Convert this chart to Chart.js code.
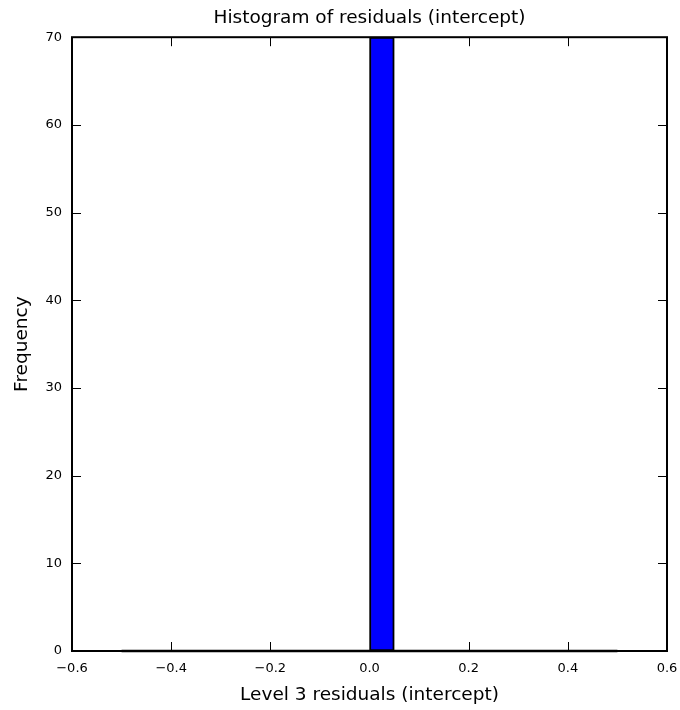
<!DOCTYPE html>
<html>
<head>
<meta charset="utf-8">
<script src="https://cdn.jsdelivr.net/npm/chart.js@4/dist/chart.umd.min.js"></script>
<style>
html,body{margin:0;padding:0;background:#fff;}
#wrap{width:680px;height:710px;}
</style>
</head>
<body>
<div id="wrap"><canvas id="c" width="680" height="710"></canvas></div>
<script>
// Histogram bin edges (20 bins of width 0.05)
const binEdges = [-0.5,-0.45,-0.4,-0.35,-0.3,-0.25,-0.2,-0.15,-0.1,-0.05,0.0,0.05,0.1,0.15,0.2,0.25,0.3,0.35,0.4,0.45,0.5];
// Counts per bin
const counts = [0,0,0,0,0,0,0,0,0,0,70,0,0,0,0,0,0,0,0,0];
// Axis tick values
const xTicks = [-0.6,-0.4,-0.2,0.0,0.2,0.4,0.6];
const yTicks = [0,10,20,30,40,50,60,70];

const titleText = 'Histogram of residuals (intercept)';
const xLabel = 'Level 3 residuals (intercept)';
const yLabel = 'Frequency';

const barData = counts.map((c,i)=>({x:(binEdges[i]+binEdges[i+1])/2, y:c}));
const baseLine = [{x:binEdges[0], y:0},{x:binEdges[binEdges.length-1], y:0}];

const FONT = 'DejaVu Sans';

const centerTitle = {
  id:'centerTitle',
  afterLayout(chart){
    const tb = chart.titleBlock;
    if (tb) { tb.left = chart.chartArea.left; tb.right = chart.chartArea.right; tb.width = tb.right - tb.left; }
  }
};

const frameTicks = {
  id:'frameTicks',
  afterDatasetsDraw(chart){
    const {ctx, chartArea:a, scales} = chart;
    ctx.save();
    ctx.strokeStyle = '#000';
    ctx.lineWidth = 1;
    const L = 9;
    ctx.beginPath();
    xTicks.forEach(v=>{
      const p = Math.round(scales.x.getPixelForValue(v)) + 0.5;
      ctx.moveTo(p, a.bottom); ctx.lineTo(p, a.bottom - L);
      ctx.moveTo(p, a.top); ctx.lineTo(p, a.top + L);
    });
    yTicks.forEach(v=>{
      const p = Math.round(scales.y.getPixelForValue(v)) + 0.5;
      ctx.moveTo(a.left, p); ctx.lineTo(a.left + L, p);
      ctx.moveTo(a.right, p); ctx.lineTo(a.right - L, p);
    });
    ctx.stroke();
    ctx.lineWidth = 2;
    ctx.strokeRect(a.left, a.top, a.right - a.left, a.bottom - a.top);
    ctx.restore();
  }
};

const fmt = v => {
  const s = Number(v).toFixed(1);
  return s.replace('-', '\u2212');
};

new Chart(document.getElementById('c'), {
  type:'bar',
  data:{
    datasets:[
      {
        type:'line',
        data: baseLine,
        borderColor:'#000',
        borderWidth:2.5,
        pointRadius:0,
        clip:false,
        order:2
      },
      {
        type:'bar',
        data: barData,
        backgroundColor:'#0000ff',
        borderColor:'#000',
        borderWidth:2,
        borderSkipped:false,
        barPercentage:1,
        categoryPercentage:1,
        order:1
      }
    ]
  },
  options:{
    responsive:false,
    animation:false,
    layout:{padding:{left:0,right:13,top:0,bottom:0}},
    plugins:{
      legend:{display:false},
      tooltip:{enabled:false},
      title:{
        display:true,
        text:titleText,
        color:'#000',
        font:{family:FONT,size:18.5,weight:'normal'},
        padding:{top:7,bottom:8}
      }
    },
    scales:{
      x:{
        type:'linear',
        min:-0.6, max:0.6,
        offset:false,
        grid:{display:false},
        border:{display:false},
        afterBuildTicks(scale){ scale.ticks = xTicks.map(v=>({value:v})); },
        afterFit(scale){ scale.height = 59; scale.paddingLeft = 0; scale.paddingRight = 0; },
        ticks:{
          color:'#000',
          font:{family:FONT,size:13},
          padding:2,
          maxRotation:0,
          autoSkip:false,
          callback:(v)=>fmt(v)
        },
        title:{
          display:true,
          text:xLabel,
          color:'#000',
          font:{family:FONT,size:18.5},
          padding:{top:4,bottom:4}
        }
      },
      y:{
        type:'linear',
        min:0, max:70,
        grid:{display:false},
        border:{display:false},
        afterBuildTicks(scale){ scale.ticks = yTicks.map(v=>({value:v})); },
        afterFit(scale){ scale.width = 72; scale.paddingTop = 0; scale.paddingBottom = 0; },
        ticks:{
          color:'#000',
          font:{family:FONT,size:13},
          padding:2,
          autoSkip:false,
          callback:(v)=>String(v)
        },
        title:{
          display:true,
          text:yLabel,
          color:'#000',
          font:{family:FONT,size:18.5},
          padding:{top:11,bottom:11}
        }
      }
    }
  },
  plugins:[centerTitle, frameTicks]
});
</script>
</body>
</html>
